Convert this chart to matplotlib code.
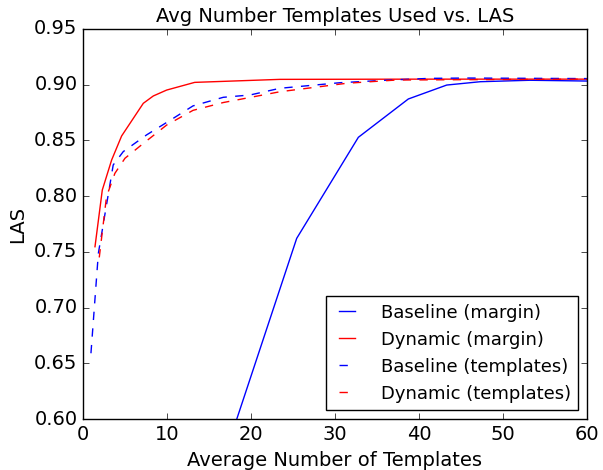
#!/usr/bin/env python3
import matplotlib
matplotlib.use("Agg")
import matplotlib.pyplot as plt

plt.style.use("classic")

# Baseline (margin)
bm_x = [12.1, 25.44, 32.78, 38.73, 43.3, 47.3, 53.2, 60.0]
bm_y = [0.4588, 0.7621, 0.8528, 0.8872, 0.8997, 0.9027, 0.9040, 0.9033]

# Dynamic (margin)
dm_x = [1.43, 2.3, 3.41, 4.6, 7.18, 8.37, 9.96, 13.3, 23.45, 40.0, 60.0]
dm_y = [0.7546, 0.8055, 0.8324, 0.854, 0.8833, 0.8899, 0.8952, 0.9021, 0.9048, 0.9050, 0.9050]

# Baseline (templates)
bt_x = [0.95, 1.83, 3.6, 4.8, 7.58, 10.36, 13.1, 16.7, 19.9, 23.45, 30.6, 36.5, 41.3, 45.7, 60.0]
bt_y = [0.659, 0.7486, 0.828, 0.840, 0.855, 0.868, 0.881, 0.8887, 0.8908, 0.8968,
        0.9018, 0.9042, 0.9057, 0.906, 0.9055]

# Dynamic (templates)
dt_x = [1.94, 2.8, 3.8, 5.0, 7.2, 9.96, 13.1, 16.7, 23.45, 31.4, 37.3, 45.0, 60.0]
dt_y = [0.745, 0.7995, 0.8205, 0.834, 0.8474, 0.8638, 0.877, 0.884, 0.8937,
        0.9013, 0.9042, 0.9045, 0.905]

fig = plt.figure(figsize=(6.03, 4.70), dpi=100, facecolor="white")
ax = fig.add_axes([0.1376, 0.1085, 0.8359, 0.8298])
ax.set_facecolor("white")

ax.plot(bm_x, bm_y, "b-", label="Baseline (margin)")
ax.plot(dm_x, dm_y, "r-", label="Dynamic (margin)")
ax.plot(bt_x, bt_y, "b--", label="Baseline (templates)")
ax.plot(dt_x, dt_y, "r--", label="Dynamic (templates)")

ax.set_xlim(0, 60)
ax.set_ylim(0.60, 0.95)
ax.set_xticks([0, 10, 20, 30, 40, 50, 60])
ax.set_yticks([0.60, 0.65, 0.70, 0.75, 0.80, 0.85, 0.90, 0.95])
ax.tick_params(labelsize=14)

ax.set_title("Avg Number Templates Used vs. LAS", fontsize=14)
ax.set_xlabel("Average Number of Templates", fontsize=14)
ax.set_ylabel("LAS", fontsize=14)

ax.legend(loc="lower right", fontsize=13, handlelength=1.5, handletextpad=1.1)

fig.savefig("out.png", dpi=100, facecolor="white")
